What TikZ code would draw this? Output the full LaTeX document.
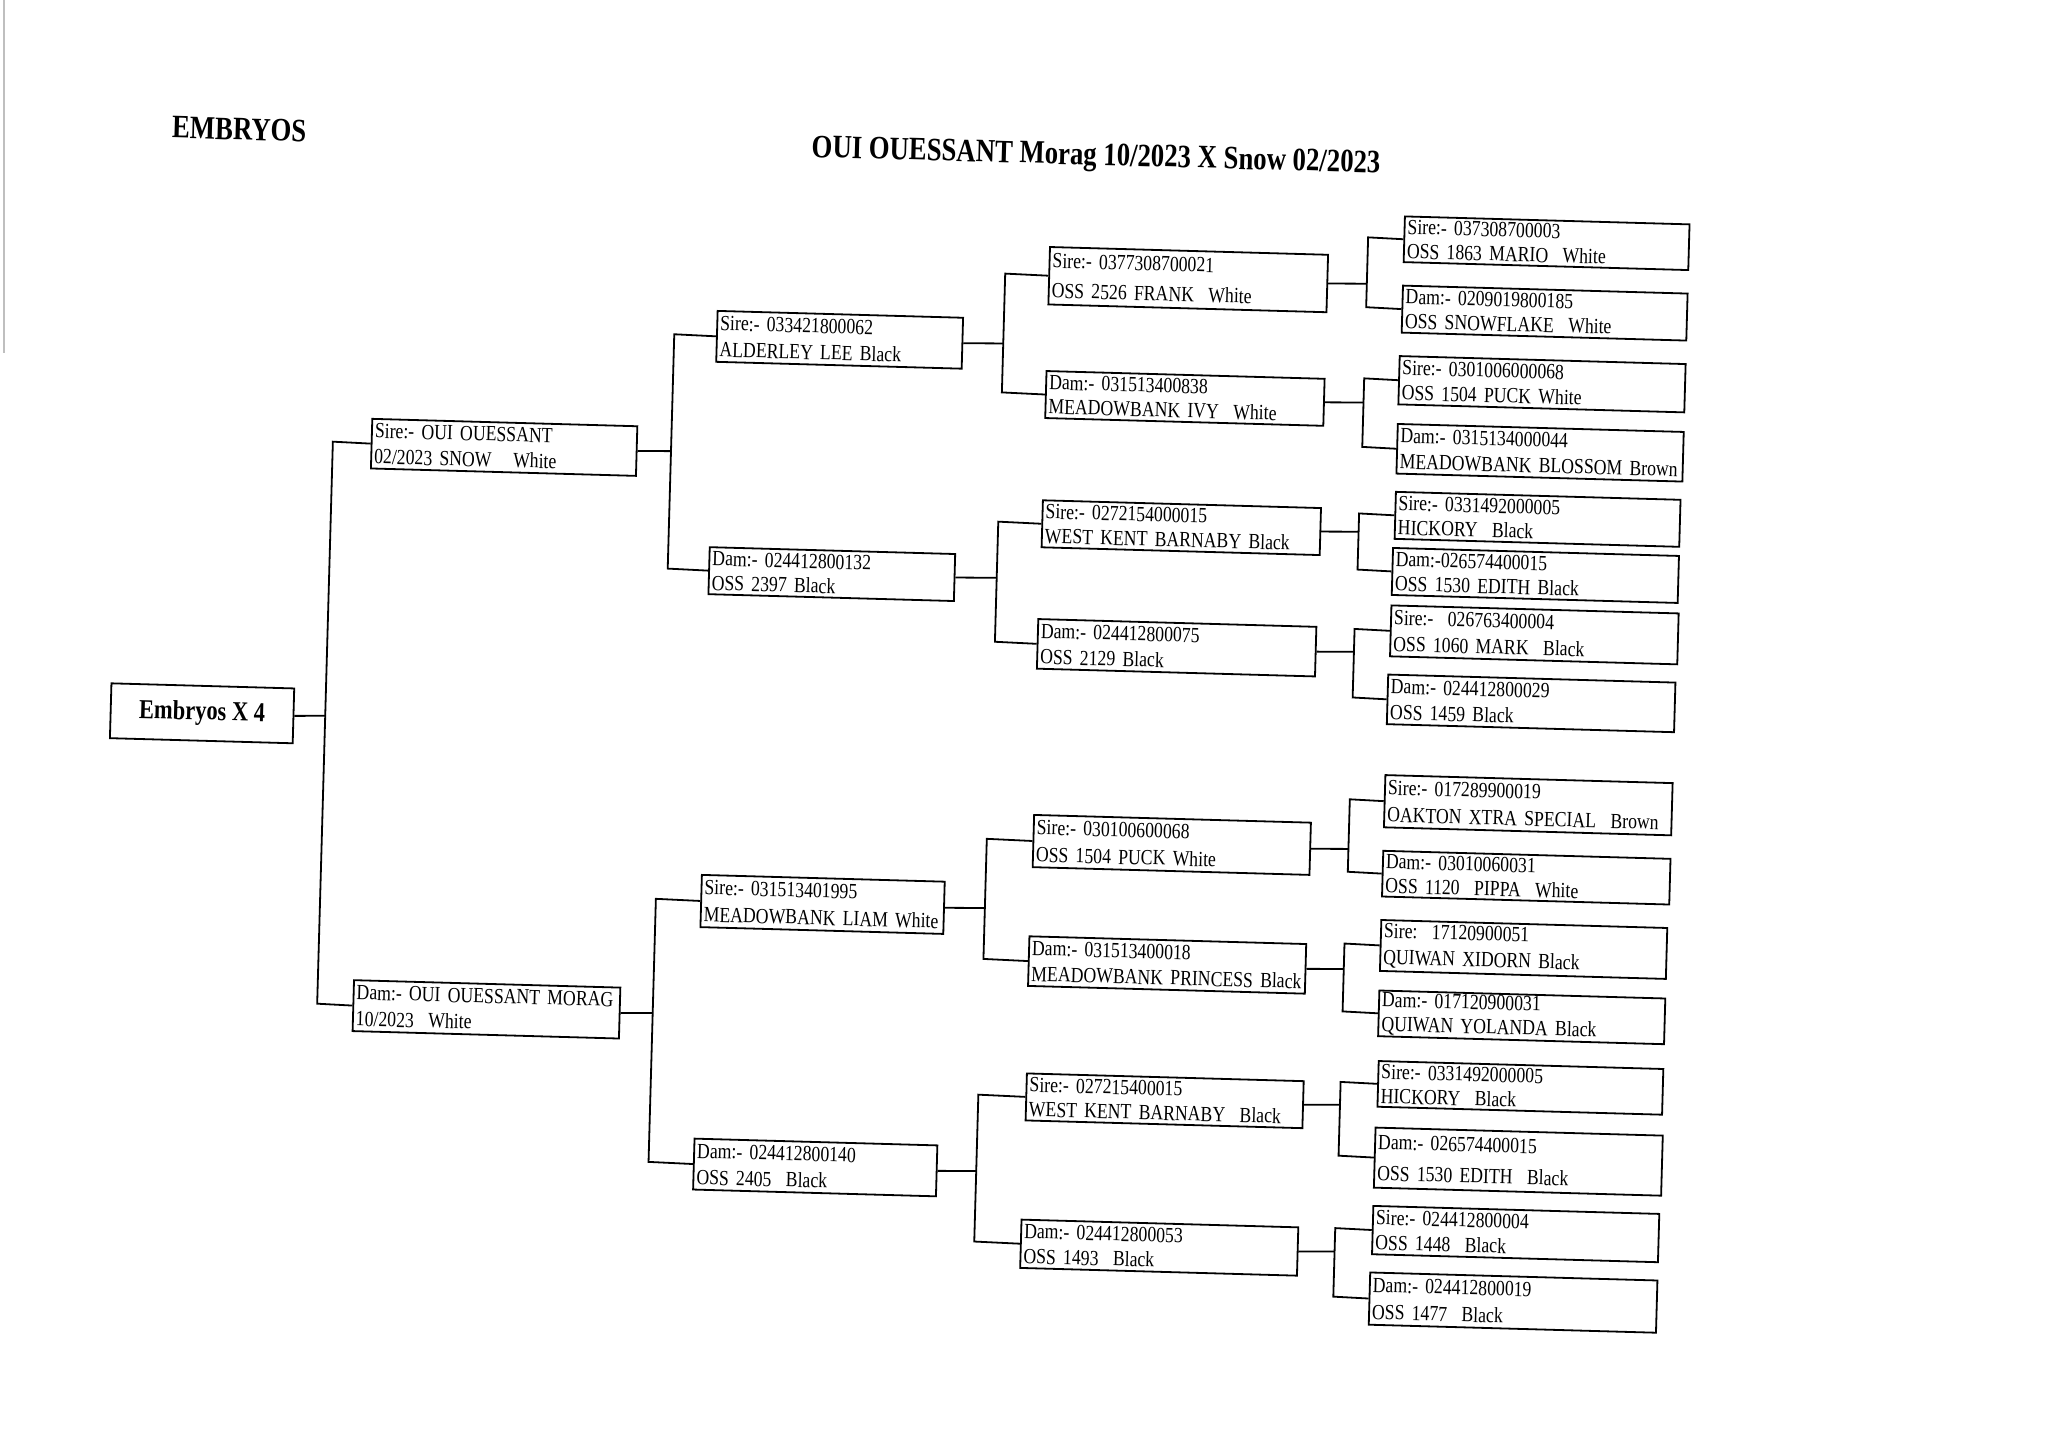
\documentclass[tikz,border=0pt]{standalone}
\usepackage{fontspec}
\setmainfont{Liberation Serif}[FakeStretch=0.82]
\tikzset{
  pbox/.style={draw, line width=0.9pt, anchor=north west, inner xsep=1.5pt, inner ysep=0pt,
    align=left, font=\fontsize{10.8}{9.6}\selectfont},
  rootbox/.style={draw, line width=0.9pt, anchor=north west, inner sep=0pt, align=center,
    font=\bfseries\fontsize{13.7}{16}\selectfont},
  conn/.style={line width=0.9pt},
  titletext/.style={inner sep=0pt, font=\bfseries\fontsize{16.3}{19}\selectfont}
}
% name, x1, y1, x2, y2, left junction x, right junction x, line 1, line 2
\newcommand\pedbox[9]{%
  \pgfmathsetmacro\pbw{(#4-#2)*0.653}%
  \pgfmathsetmacro\pbt{(#4-#2)*0.653-3}%
  \pgfmathsetmacro\pbh{(#5-#3)*0.653}%
  \pgfmathsetmacro\pbg{max(0.52*(#5-#3)*0.653-9.6,2.6)}%
  \pgfmathsetmacro\pbc{(#3+#5)/2}%
  \node[pbox, minimum width=\pbw pt, minimum height=\pbh pt, text width=\pbt pt] (#1) at (#2,#3) {#8\\[\pbg pt]#9};
  \coordinate (#1-L) at (#6,\pbc);
  \coordinate (#1-R) at (#7,\pbc);
}
\begin{document}
\begin{tikzpicture}[x=0.653pt, y=-0.653pt]
\fill[white] (0,0) rectangle (1568,1109);
\useasboundingbox (0,0) rectangle (1568,1109);
\draw[gray!50, line width=0.8pt] (3,0) -- (3,270);
\begin{scope}[rotate around={-1.6:(784,554.5)}, transform shape]
\node[titletext, anchor=base west] (emb) at (119,124) {EMBRYOS};
\node[titletext, anchor=base] (title) at (827,125) {OUI OUESSANT Morag 10/2023 X Snow 02/2023};

\node[rootbox, minimum width=140*0.653pt, minimum height=42*0.653pt] (root) at (84,542) {Embryos X 4};
\coordinate (root-R) at (249,563);

% generation 1
\pedbox{s}{278}{334}{481}{372}{249}{508}{Sire:- OUI OUESSANT}{02/2023 SNOW\ \ \ White}
\pedbox{d}{276}{764}{480}{803}{249}{506}{Dam:- OUI OUESSANT MORAG}{10/2023\ \ White}
% generation 2
\pedbox{ss}{540}{244}{728}{283}{508}{760}{Sire:- 033421800062}{ALDERLEY LEE Black}
\pedbox{sd}{539}{425}{727}{461}{508}{760}{Dam:- 024412800132}{OSS 2397 Black}
\pedbox{ds}{540}{676}{726}{716}{506}{758}{Sire:- 031513401995}{MEADOWBANK LIAM White}
\pedbox{dd}{540}{878}{726}{917}{506}{757}{Dam:- 024412800140}{OSS 2405\ \ Black}
% generation 3
\pedbox{sss}{793}{188}{1006}{232}{760}{1037}{Sire:- 0377308700021}{OSS 2526 FRANK\ \ White}
\pedbox{ssd}{793}{283}{1006}{319}{760}{1037}{Dam:- 031513400838}{MEADOWBANK IVY\ \ White}
\pedbox{sds}{793}{382}{1006}{418}{760}{1036}{Sire:- 0272154000015}{WEST KENT BARNABY Black}
\pedbox{sdd}{792}{473}{1005}{511}{760}{1035}{Dam:- 024412800075}{OSS 2129 Black}
\pedbox{dss}{793}{623}{1005}{663}{758}{1035}{Sire:- 030100600068}{OSS 1504 PUCK White}
\pedbox{dsd}{792}{716}{1004}{754}{758}{1034}{Dam:- 031513400018}{MEADOWBANK PRINCESS Black}
\pedbox{dds}{793}{821}{1005}{857}{757}{1034}{Sire:- 027215400015}{WEST KENT BARNABY\ \ Black}
\pedbox{ddd}{792}{933}{1004}{970}{757}{1033}{Dam:- 024412800053}{OSS 1493\ \ Black}
% generation 4
\pedbox{ssss}{1064}{157}{1282}{192}{1037}{0}{Sire:- 037308700003}{OSS 1863 MARIO\ \ White}
\pedbox{sssd}{1064}{210}{1282}{246}{1037}{0}{Dam:- 0209019800185}{OSS SNOWFLAKE\ \ White}
\pedbox{ssds}{1063}{264}{1282}{301}{1037}{0}{Sire:- 0301006000068}{OSS 1504 PUCK White}
\pedbox{ssdd}{1063}{316}{1282}{354}{1037}{0}{Dam:- 0315134000044}{MEADOWBANK BLOSSOM Brown}
\pedbox{sdss}{1063}{368}{1281}{404}{1036}{0}{Sire:- 0331492000005}{HICKORY\ \ Black}
\pedbox{sdsd}{1062}{411}{1281}{447}{1036}{0}{Dam:-026574400015}{OSS 1530 EDITH Black}
\pedbox{sdds}{1062}{455}{1282}{494}{1035}{0}{Sire:-\ \ 026763400004}{OSS 1060 MARK\ \ Black}
\pedbox{sddd}{1061}{508}{1281}{546}{1035}{0}{Dam:- 024412800029}{OSS 1459 Black}
\pedbox{dsss}{1061}{585}{1281}{625}{1035}{0}{Sire:- 017289900019}{OAKTON XTRA SPECIAL\ \ Brown}
\pedbox{dssd}{1061}{643}{1281}{678}{1035}{0}{Dam:- 03010060031}{OSS 1120\ \ PIPPA\ \ White}
\pedbox{dsds}{1061}{696}{1280}{735}{1034}{0}{Sire:\ \ 17120900051}{QUIWAN XIDORN Black}
\pedbox{dsdd}{1061}{750}{1280}{785}{1034}{0}{Dam:- 017120900031}{QUIWAN YOLANDA Black}
\pedbox{ddss}{1062}{804}{1280}{839}{1034}{0}{Sire:- 0331492000005}{HICKORY\ \ Black}
\pedbox{ddsd}{1061}{855}{1281}{901}{1034}{0}{Dam:- 026574400015}{OSS 1530 EDITH\ \ Black}
\pedbox{ddds}{1061}{915}{1280}{952}{1033}{0}{Sire:- 024412800004}{OSS 1448\ \ Black}
\pedbox{dddd}{1060}{966}{1280}{1006}{1033}{0}{Dam:- 024412800019}{OSS 1477\ \ Black}

% connectors
\foreach \p/\a/\b in {root/s/d, s/ss/sd, d/ds/dd,
    ss/sss/ssd, sd/sds/sdd, ds/dss/dsd, dd/dds/ddd,
    sss/ssss/sssd, ssd/ssds/ssdd, sds/sdss/sdsd, sdd/sdds/sddd,
    dss/dsss/dssd, dsd/dsds/dsdd, dds/ddss/ddsd, ddd/ddds/dddd}{
  \draw[conn] (\p.east) -- (\p-R);
  \draw[conn] (\a.west) -- (\a-L) -- (\b-L) -- (\b.west);
}
\end{scope}
\end{tikzpicture}
\end{document}
